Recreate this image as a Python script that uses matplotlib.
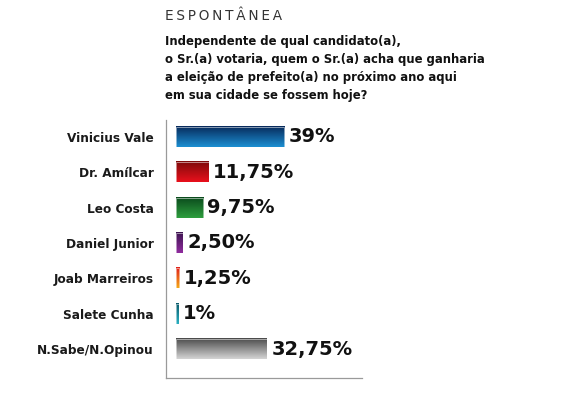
import numpy as np
import matplotlib
matplotlib.use("Agg")
import matplotlib.pyplot as plt
from matplotlib.colors import LinearSegmentedColormap

candidatos = ["Vinicius Vale", "Dr. Amílcar", "Leo Costa", "Daniel Junior",
              "Joab Marreiros", "Salete Cunha", "N.Sabe/N.Opinou"]
valores = [39, 11.75, 9.75, 2.5, 1.25, 1, 32.75]
rotulos = ["39%", "11,75%", "9,75%", "2,50%", "1,25%", "1%", "32,75%"]
# cor do topo e cor da base de cada barra (degrade vertical)
cores = [("#07295a", "#1c8fd2"),
         ("#7e0a0a", "#e8101c"),
         ("#0a4a1c", "#2e9e3e"),
         ("#3c1450", "#902c9e"),
         ("#e0201a", "#f5a818"),
         ("#0b5a6a", "#2ab0c2"),
         ("#4a4a4a", "#d4d4d4")]

plt.rcParams['font.family'] = ['DejaVu Sans']

fig = plt.figure(figsize=(5.69, 3.98), dpi=100)
ax = fig.add_axes([166/569, 20/398, 196/569, 258/398])

y = np.arange(len(candidatos))
barras = ax.barh(y, valores, height=0.57, color="none", edgecolor="none")

grad = np.linspace(0, 1, 64).reshape(-1, 1)
for b, (c1, c2) in zip(barras, cores):
    cmap = LinearSegmentedColormap.from_list("g", [c1, c2])
    x0, y0, w, h = b.get_x(), b.get_y(), b.get_width(), b.get_height()
    ax.imshow(grad, cmap=cmap, aspect="auto", origin="upper",
              extent=(x0, x0 + w, y0 + h, y0), zorder=2)
    ax.add_patch(plt.Rectangle((x0, y0), w, h, fill=False,
                               edgecolor="#ffffff", lw=0.6, alpha=0.6, zorder=3))

for yi, v, t in zip(y, valores, rotulos):
    ax.text(v + 1.6, yi, t, va="center", ha="left", fontsize=14,
            fontweight="bold", color="#111111")

ax.set_xlim(-3.6, 67.1)
ax.set_ylim(6.82, -0.48)
ax.set_yticks(y)
ax.set_yticklabels(candidatos, fontsize=8.7, fontweight="bold", color="#1a1a1a")
ax.tick_params(axis="y", length=0, pad=9)
ax.set_xticks([])
for s in ["top", "right"]:
    ax.spines[s].set_visible(False)
for s in ["left", "bottom"]:
    ax.spines[s].set_color("#9a9a9a")
    ax.spines[s].set_linewidth(0.9)

fig.text(165/569, 1 - 16/398, "E\u2009S\u2009P\u2009O\u2009N\u2009T\u2009Â\u2009N\u2009E\u2009A",
         fontsize=9.8, color="#333333", va="center", ha="left")
pergunta = ("Independente de qual candidato(a),\n"
            "o Sr.(a) votaria, quem o Sr.(a) acha que ganharia\n"
            "a eleição de prefeito(a) no próximo ano aqui\n"
            "em sua cidade se fossem hoje?")
fig.text(165/569, 1 - 35/398, pergunta, fontsize=8.4, fontweight="bold",
         color="#111111", va="top", ha="left", linespacing=1.5)

fig.savefig("out.png", dpi=100)
